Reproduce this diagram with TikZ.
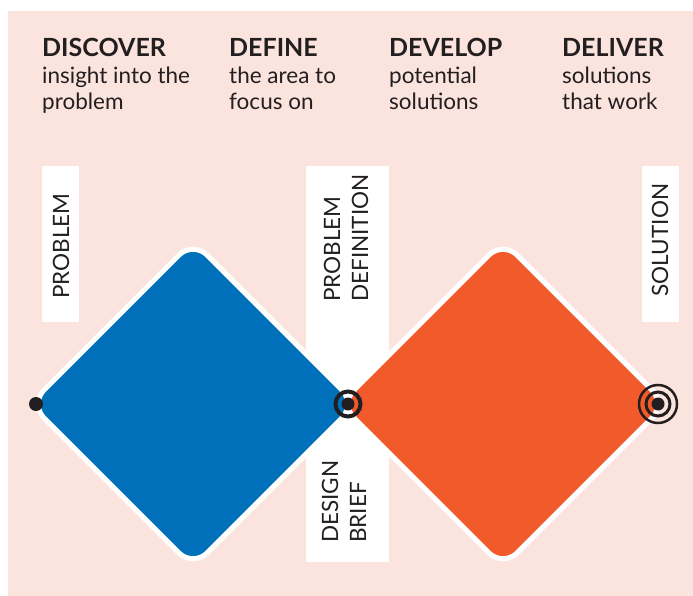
\documentclass[tikz,border=0pt]{standalone}
\usepackage{fontspec}
\setmainfont{Lato}
\usetikzlibrary{shapes.geometric,positioning}
\definecolor{bgpink}{HTML}{FCE4DE}
\definecolor{ddblue}{HTML}{0070BA}
\definecolor{ddorange}{HTML}{F15A2B}
\definecolor{ink}{HTML}{231F20}
\tikzset{
  head/.style={anchor=base west, inner sep=0pt, text=ink, font=\bfseries\fontsize{25}{30}\selectfont},
  sub/.style={anchor=base west, inner sep=0pt, align=left, text=ink, font=\fontsize{22.5}{26.5}\selectfont},
  tag/.style={rotate=90, inner sep=0pt, align=left, text=ink, font=\fontsize{22.5}{28}\selectfont},
  rhomb/.style={diamond, minimum width=328pt, minimum height=328pt, inner sep=0pt, draw=white, line width=5pt, rounded corners=20pt},
  ring/.style={circle, draw=ink, inner sep=0pt},
  dot/.style={circle, fill=ink, inner sep=0pt, minimum size=13pt},
}
\begin{document}
\begin{tikzpicture}[x=1pt, y=-1pt]
\useasboundingbox (0,0) rectangle (693,596);
\fill[bgpink] (8,11) rectangle (693,596);

% headings
\foreach \x/\h/\a/\b in {42/DISCOVER/insight into the/problem,
  229/DEFINE/the area to/focus on,
  389/DEVELOP/potential/solutions,
  562/DELIVER/solutions/that work}{
\node[head] (\h) at (\x,57) {\h};
\node[sub] (\h-text) at (\x,110) {\a\\\b};
}

% white cards
\begin{scope}[white]
\fill (42,166) rectangle (79,322);
\fill (306,166) rectangle (389,562);
\fill (642,166) rectangle (679,322);
\end{scope}

% the two diamonds
\node[rhomb, fill=ddblue] (discover) at (193,404) {};
\node[rhomb, fill=ddorange] (develop) at (503,404) {};

% points
\node[dot, minimum size=14pt] (start) at (36,404) {};
\node[ring, line width=4pt, minimum size=25pt] (brief-ring) at (348,404) {};
\node[dot] (brief-dot) at (brief-ring) {};
\node[ring, line width=2.5pt, minimum size=38pt] (goal-outer) at (658,404) {};
\node[ring, line width=3pt, minimum size=24pt] (goal-inner) at (goal-outer) {};
\node[dot] (goal-dot) at (goal-outer) {};

% labels
\node[tag] (problem) at (61,246) {PROBLEM};
\node[tag, anchor=west] (definition) at (346,302) {PROBLEM\\DEFINITION};
\node[tag, anchor=west] (design) at (344,543) {DESIGN\\BRIEF};
\node[tag] (solution) at (660,240) {SOLUTION};
\end{tikzpicture}
\end{document}
